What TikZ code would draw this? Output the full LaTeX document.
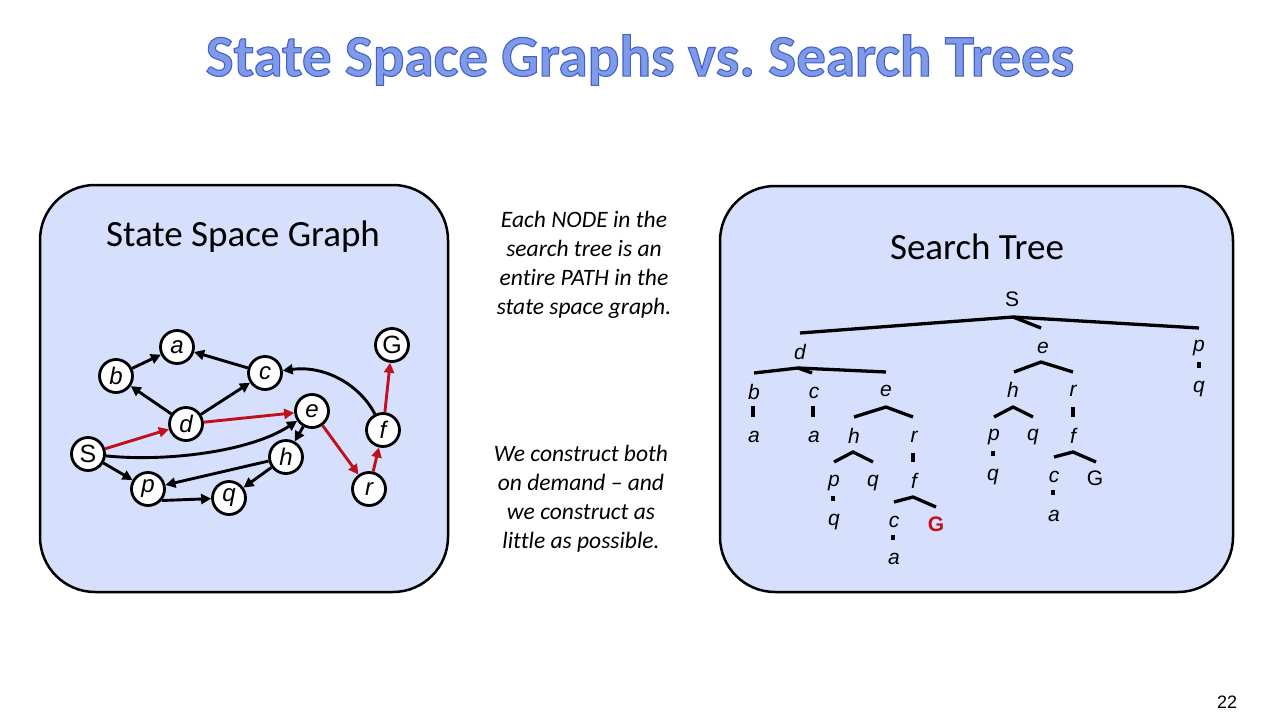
\documentclass[tikz,border=0pt]{standalone}
\usepackage{fontspec}
\setmainfont{Carlito}[Ligatures=NoCommon]
\newfontfamily\arial{Liberation Sans}
\usetikzlibrary{arrows.meta}
\frenchspacing
\definecolor{boxfill}{RGB}{214,224,252}
\definecolor{titleblue}{RGB}{126,154,232}
\definecolor{pathred}{RGB}{192,16,28}
\tikzset{
  panel/.style={draw=black, line width=2.5pt, fill=boxfill, rounded corners=55pt},
  gnode/.style={circle, draw=black, line width=2.8pt, fill=white, minimum size=33pt, inner sep=0pt, font=\arial\itshape\fontsize{24}{24}\selectfont},
  garrow/.style={line width=2.9pt, draw=black, -{Triangle[length=10pt,width=10pt]}},
  rarrow/.style={line width=2.9pt, draw=pathred, -{Triangle[length=10pt,width=10pt]}},
  tlab/.style={inner sep=0pt, font=\arial\itshape\fontsize{21}{21}\selectfont},
  tlabu/.style={inner sep=0pt, font=\arial\fontsize{21}{21}\selectfont},
  tline/.style={line width=3.3pt, draw=black},
  ttick/.style={line width=3.8pt, draw=black},
  midtext/.style={align=center, font=\itshape\fontsize{23.5}{29}\selectfont, inner sep=0pt}
}
\begin{document}
\begin{tikzpicture}[x=1pt,y=-1pt]
\useasboundingbox[fill=white] (0,0) rectangle (1280,720);
% title
\node (title) at (640,60) {\fontsize{59}{59}\selectfont\bfseries\textcolor{titleblue}{\special{pdf:literal direct 2 Tr 1.1 w 0.27 0.38 0.78 RG}State Space Graphs vs. Search Trees\special{pdf:literal direct 0 Tr}}};
% panels
\draw[panel] (40,185) rectangle (448,592);
\draw[panel] (720,186) rectangle (1233,592);
\node (lt) at (243,237) {\fontsize{37}{37}\selectfont State Space Graph};
\node (rt) at (977,247) {\fontsize{37}{37}\selectfont Search Tree};
% middle text
\node[midtext] (m1) at (584,265) {Each NODE in the\\search tree is an\\entire PATH in the\\state space graph.};
\node[midtext] (m2) at (581,499) {We construct both\\on demand -- and\\we construct as\\little as possible.};
\node[font=\arial\fontsize{18}{18}\selectfont] (num) at (1227,702) {22};
% graph
\node[gnode] (a) at (177,347) {a};
\node[gnode] (b) at (116,376) {b};
\node[gnode] (c) at (265,373) {c};
\node[gnode, font=\arial\fontsize{25}{25}\selectfont] (G) at (392,345) {G};
\node[gnode] (e) at (312,411) {e};
\node[gnode] (d) at (186,424) {d};
\node[gnode] (f) at (383,430) {f};
\node[gnode, font=\arial\fontsize{25}{25}\selectfont] (S) at (88,454) {S};
\node[gnode] (h) at (286,457) {h};
\node[gnode] (p) at (148,489) {p};
\node[gnode] (q) at (229,498) {q};
\node[gnode] (r) at (369,489) {r};
\draw[garrow] (b) -- (a);
\draw[garrow] (c) -- (a);
\draw[garrow] (d) -- (b);
\draw[garrow] (d) -- (c);
\draw[rarrow] (S) -- (d);
\draw[rarrow] (d) -- (e);
\draw[garrow] (S) .. controls (165,462) and (250,452) .. (e);
\draw[garrow] (e) -- (h);
\draw[rarrow] (e) -- (r);
\draw[rarrow] (r) -- (f);
\draw[rarrow] (f) -- (G);
\draw[garrow] (f) .. controls (360,385) and (325,365) .. (c);
\draw[garrow] (h) -- (p);
\draw[garrow] (h) -- (q);
\draw[garrow] (S) -- (p);
\draw[garrow] (p.-40) -- (q);
% search tree
\node[tlabu] (tS) at (1012,299) {S};
\coordinate (tS0) at (1013,317);
\coordinate (tSd) at (800,333);
\coordinate (tSe) at (1041,328);
\coordinate (tSp) at (1199,328);
\draw[tline] (tSd) -- (tS0) -- (tSp);
\draw[tline] (tS0) -- (tSe);
% d subtree
\node[tlab] (td) at (800,352) {d};
\coordinate (td0) at (798,368);
\coordinate (tdb) at (754,373);
\coordinate (tdc) at (812,373);
\coordinate (tde) at (886,372);
\draw[tline] (tdb) -- (td0) -- (tde);
\draw[tline] (td0) -- (tdc);
\node[tlab] (tb) at (754,392) {b};
\node[tlab] (tc1) at (814,393) {c};
\node[tlab] (te1) at (886,391) {e};
\coordinate (tba0) at (753,406); \coordinate (tba1) at (753,417);
\draw[ttick] (tba0) -- (tba1);
\coordinate (tca0) at (813,406); \coordinate (tca1) at (813,417);
\draw[ttick] (tca0) -- (tca1);
\node[tlab] (ta1) at (754,437) {a};
\node[tlab] (ta2) at (814,437) {a};
\coordinate (te10) at (886,407);
\coordinate (te1h) at (854,417);
\coordinate (te1r) at (913,417);
\draw[tline] (te1h) -- (te10) -- (te1r);
\node[tlab] (th1) at (854,436) {h};
\node[tlab] (tr1) at (914,437) {r};
\coordinate (th10) at (853,452);
\coordinate (th1p) at (834,462);
\coordinate (th1q) at (873,462);
\draw[tline] (th1p) -- (th10) -- (th1q);
\node[tlab] (tp1) at (834,483) {p};
\node[tlab] (tq1) at (873,483) {q};
\coordinate (tpq10) at (833,496); \coordinate (tpq11) at (833,501);
\draw[ttick] (tpq10) -- (tpq11);
\node[tlab] (tq2) at (834,522) {q};
\coordinate (trf10) at (913,453); \coordinate (trf11) at (913,462);
\draw[ttick] (trf10) -- (trf11);
\node[tlab] (tf1) at (914,481) {f};
\coordinate (tf10) at (913,497);
\coordinate (tf1c) at (894,502);
\coordinate (tf1g) at (936,507);
\draw[tline] (tf1c) -- (tf10) -- (tf1g);
\node[tlab] (tc2) at (894,522) {c};
\node[inner sep=0pt, font=\arial\bfseries\fontsize{21}{21}\selectfont, text=pathred] (tG1) at (936,524) {G};
\coordinate (tca20) at (893,535); \coordinate (tca21) at (893,540);
\draw[ttick] (tca20) -- (tca21);
\node[tlab] (ta3) at (894,559) {a};
% e subtree
\node[tlab] (te2) at (1043,348) {e};
\coordinate (te20) at (1041,362);
\coordinate (te2h) at (1014,372);
\coordinate (te2r) at (1073,372);
\draw[tline] (te2h) -- (te20) -- (te2r);
\node[tlab] (th2) at (1013,390) {h};
\node[tlab] (tr2) at (1073,391) {r};
\coordinate (th20) at (1013,407);
\coordinate (th2p) at (994,417);
\coordinate (th2q) at (1033,417);
\draw[tline] (th2p) -- (th20) -- (th2q);
\node[tlab] (tp2) at (994,437) {p};
\node[tlab] (tq3) at (1033,437) {q};
\coordinate (tpq20) at (993,451); \coordinate (tpq21) at (993,456);
\draw[ttick] (tpq20) -- (tpq21);
\node[tlab] (tq4) at (993,477) {q};
\coordinate (trf20) at (1073,407); \coordinate (trf21) at (1073,417);
\draw[ttick] (trf20) -- (trf21);
\node[tlab] (tf2) at (1073,436) {f};
\coordinate (tf20) at (1073,452);
\coordinate (tf2c) at (1054,457);
\coordinate (tf2g) at (1096,462);
\draw[tline] (tf2c) -- (tf20) -- (tf2g);
\node[tlab] (tc3) at (1054,477) {c};
\node[tlabu] (tG2) at (1095,478) {G};
\coordinate (tca30) at (1053,490); \coordinate (tca31) at (1053,495);
\draw[ttick] (tca30) -- (tca31);
\node[tlab] (ta4) at (1054,516) {a};
% p subtree
\node[tlab] (tp3) at (1199,348) {p};
\coordinate (tpq30) at (1199,362); \coordinate (tpq31) at (1199,368);
\draw[ttick] (tpq30) -- (tpq31);
\node[tlab] (tq5) at (1199,389) {q};
\end{tikzpicture}
\end{document}
